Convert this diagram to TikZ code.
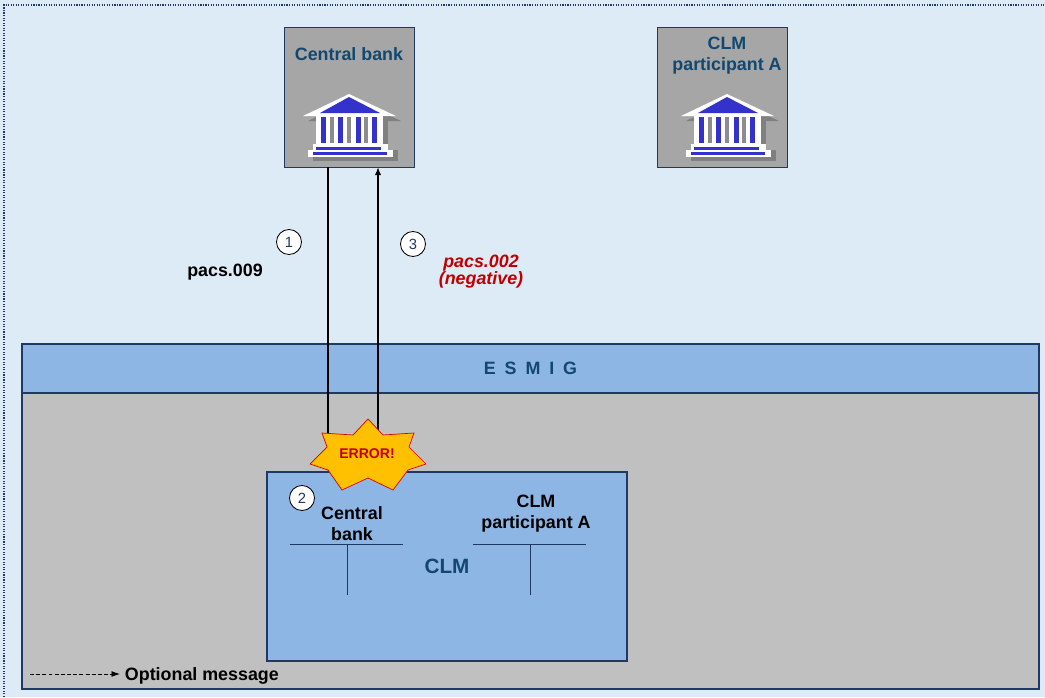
\documentclass[tikz,border=0pt]{standalone}
\usepackage{fontspec}
\setmainfont{Liberation Sans}
\usetikzlibrary{arrows.meta}
\definecolor{bgblue}{RGB}{221,235,247}
\definecolor{frameblue}{RGB}{31,56,100}
\definecolor{midblue}{RGB}{142,182,228}
\definecolor{zonegrey}{RGB}{192,192,192}
\definecolor{boxgrey}{RGB}{166,166,166}
\definecolor{titleblue}{RGB}{18,72,112}
\definecolor{bankblue}{RGB}{51,51,204}
\definecolor{bankgap}{RGB}{140,140,140}
\definecolor{bankshadow}{RGB}{128,128,128}
\definecolor{starfill}{RGB}{255,192,0}
\definecolor{errred}{RGB}{192,0,0}
\definecolor{numblue}{RGB}{31,56,100}
\begin{document}
\begin{tikzpicture}[x=0.025cm, y=-0.025cm,
    bankbox/.style={draw=frameblue, fill=boxgrey, line width=0.5pt, minimum width=3.25cm, minimum height=3.5cm, inner sep=0pt},
    title/.style={align=center, text=titleblue, font=\bfseries\fontsize{12.7}{15}\selectfont},
    lbl/.style={align=center, font=\bfseries\fontsize{12.7}{15}\selectfont},
    zone/.style={draw=frameblue, fill=zonegrey, line width=1pt, minimum width=25.425cm, minimum height=8.625cm, inner sep=0pt},
    band/.style={draw=frameblue, fill=midblue, line width=1pt, minimum width=25.425cm, minimum height=1.225cm, inner sep=0pt, text=titleblue, font=\bfseries\fontsize{12.7}{15}\selectfont},
    clmbox/.style={draw=frameblue, fill=midblue, line width=1pt, minimum width=9cm, minimum height=4.725cm, inner sep=0pt, text=titleblue, font=\bfseries\fontsize{14.7}{17}\selectfont},
    num/.style={circle, draw, fill=white, line width=0.6pt, minimum size=0.625cm, inner sep=0pt, text=numblue, font=\fontsize{10.5}{12}\selectfont},
    msg/.style={-{Latex[length=5.5pt,width=4.5pt]}, line width=0.75pt},
    optmsg/.style={-{Latex[length=6pt,width=4.2pt]}, line width=0.6pt, dash pattern=on 2.8pt off 1.6pt},
    tline/.style={draw=frameblue, line width=0.7pt},
    errstar/.style={fill=starfill, draw=red!85!black, line width=0.5pt},
    bank/.pic={
      \fill[bankshadow] (-41,27) -- (5,5) -- (52,27) -- cycle;
      \fill[bankshadow] (-28,26) rectangle (39,56);
      \fill[bankshadow] (-36,56) rectangle (49,67);
      \fill[white] (-46,22) -- (0,0) -- (47,22) -- cycle;
      \fill[white] (-33,21) rectangle (34,51);
      \fill[white] (-36,50) rectangle (39,57);
      \fill[white] (-41,56) rectangle (44,63);
      \fill[bankblue] (-29,19) -- (0,3) -- (31,19) -- cycle;
      \foreach \c in {-26,-9,9,25} \fill[bankblue] (\c-2.5,23) rectangle (\c+2.5,49);
      \foreach \c in {-17,0,17} \fill[bankgap] (\c-2,23) rectangle (\c+2,49);
      \fill[bankblue] (-33,52.5) rectangle (32,55.5);
      \fill[bankblue] (-36,58) rectangle (38,61);
    }]
\useasboundingbox (0,0) rectangle (1045,697);
\fill[bgblue] (0,0) rectangle (1045,697);
\draw[frameblue, densely dotted, line width=0.8pt] (4,697) -- (4,5) -- (1045,5);
\foreach \nm/\x/\t/\ix/\ty in {cb/349/{Central bank}/349/54, pa/722/{CLM\\participant A}/727/56}
  {\node[bankbox] (\nm) at (\x,97) {};
   \node[title] (\nm t) at (\ix,\ty) {\t};
   \pic at (\ix,94) {bank};}
\node[zone] (zone) at (530.5,516.5) {};
\node[band] (esmig) at (530.5,368.5) {E\hspace{0.22em} S\hspace{0.22em} M\hspace{0.22em} I\hspace{0.22em} G};
\node[clmbox] (clm) at (447,566.5) {CLM};
\node[lbl] (cbl) at (352,523.5) {Central\\bank};
\node[lbl] (pal) at (536,514) {CLM\\participant A};
\coordinate (cbv) at (347,544);
\coordinate (pav) at (530,544);
\draw[tline] ([xshift=-1.425cm]cbv) -- ([xshift=1.4cm]cbv) (cbv) -- ++(0,51);
\draw[tline] ([xshift=-1.425cm]pav) -- ([xshift=1.4cm]pav) (pav) -- ++(0,51);
\coordinate (a1) at (328,0);
\coordinate (a3) at (378,0);
\draw[msg] (cb.south -| a1) -- (clm.north -| a1);
\draw[msg] (clm.north -| a3) -- (cb.south -| a3);
\draw[errstar, shift={(368,458)}] (0,-39) -- (15,-23) -- (46,-25) -- (41,-11) -- (58,6) -- (40,12)
  -- (25,32) -- (0,20) -- (-26,32) -- (-40,12) -- (-58,6) -- (-41,-11) -- (-46,-25) -- (-15,-23) -- cycle;
\node[text=errred, font=\bfseries\fontsize{10}{12}\selectfont] (err) at (367,453.5) {ERROR!};
\foreach \i/\x/\y in {1/289/242, 2/302/498, 3/413/244}
  \node[num] (n\i) at (\x,\y) {\i};
\node[lbl] (p9) at (225,272) {pacs.009};
\node[lbl, text=errred, font=\bfseries\itshape\fontsize{12.7}{12.3}\selectfont] (p2) at (481,271.5) {pacs.002\\(negative)};
\node[lbl, anchor=west] (leg) at (120,676) {Optional message};
\coordinate (legs) at (30,674);
\draw[optmsg] (legs) -- (legs -| leg.west);
\end{tikzpicture}
\end{document}
